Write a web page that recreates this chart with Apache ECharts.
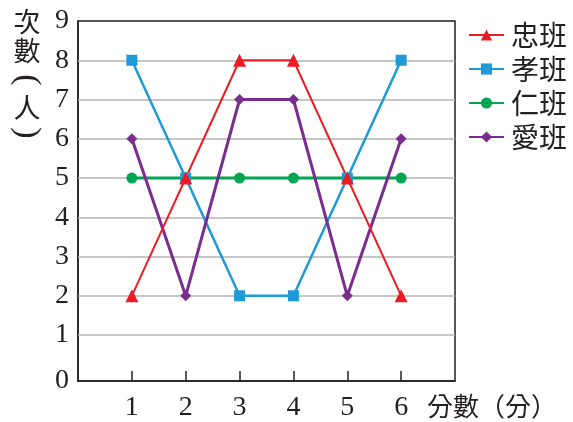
<!DOCTYPE html>
<html>
<head>
<meta charset="utf-8">
<script src="https://cdn.jsdelivr.net/npm/echarts@6/dist/echarts.min.js"></script>
<style>html,body{margin:0;padding:0;background:#fff;}#c{width:573px;height:422px;}</style>
</head>
<body>
<div id="c"></div>
<script>
const scores = [1, 2, 3, 4, 5, 6];
const yTicks = [1, 2, 3, 4, 5, 6, 7, 8, 9];
const zhong = [2, 5, 8, 8, 5, 2];
const xiao = [8, 5, 2, 2, 5, 8];
const ren = [5, 5, 5, 5, 5, 5];
const ai = [6, 2, 7, 7, 2, 6];
const names = ['忠班', '孝班', '仁班', '愛班'];
const xName = '分數（分）';
const yNameChars = ['次', '數', '(', '人', ')'];

const pairs = arr => scores.map((x, i) => [x, arr[i]]);
const serif = 'Liberation Serif, Times New Roman, serif';
const cjk = 'Noto Sans CJK TC';
const yMin = -0.17;

const yNameY = [22, 51, 80, 108, 133];
const yNameGraphics = yNameChars.map((ch, i) => {
  const paren = ch === '(' || ch === ')';
  return {
    type: 'text', x: 27, y: yNameY[i], rotation: paren ? -Math.PI / 2 : 0,
    style: {text: ch, font: paren ? '34px "Liberation Serif"' : '27px "Noto Sans CJK TC"',
      fill: '#231f20', align: 'center', verticalAlign: 'middle'}
  };
});

const chart = echarts.init(document.getElementById('c'));
const mk = (name, arr, color, symbol, size, width, extra) => Object.assign({
  name, type: 'line', data: pairs(arr), symbol, symbolSize: size, z: 6,
  lineStyle: {color, width}, itemStyle: {color}, animation: false
}, extra || {});
chart.setOption({
  animation: false,
  grid: {left: 78, right: 118, top: 21, bottom: 38, show: true, borderColor: '#231f20', borderWidth: 1.5},
  legend: {
    orient: 'vertical', left: 468, top: 21, padding: 0, itemWidth: 35, itemHeight: 14, itemGap: 6,
    data: names,
    textStyle: {fontFamily: cjk, fontSize: 28, lineHeight: 28, color: '#231f20', padding: [0, 0, 0, 2]}
  },
  xAxis: {
    type: 'value', min: 0, max: 7,
    axisLine: {onZero: false, lineStyle: {color: '#231f20', width: 1.5}},
    axisTick: {show: true, inside: true, length: 10, customValues: scores, lineStyle: {color: '#231f20', width: 1.5}},
    axisLabel: {customValues: scores, margin: 13, fontFamily: serif, fontSize: 28, color: '#231f20'},
    splitLine: {show: false}
  },
  yAxis: {
    type: 'value', min: yMin, max: 9,
    axisLine: {show: true, onZero: false, lineStyle: {color: '#231f20', width: 1.5}},
    axisTick: {show: false},
    axisLabel: {customValues: [yMin].concat(yTicks), margin: 9, fontFamily: serif, fontSize: 28, color: '#231f20',
      formatter: v => (v < 0.5 ? '0' : String(Math.round(v)))},
    splitLine: {show: false}
  },
  graphic: yNameGraphics.concat([
    {type: 'text', left: 427, top: 393, style: {text: xName, font: '26px "Noto Sans CJK TC"', fill: '#231f20'}}
  ]),
  series: [
    mk('仁班', ren, '#00a650', 'circle', 11, 3, {
      markLine: {
        silent: true, symbol: 'none', z: 1, animation: false,
        label: {show: false},
        lineStyle: {color: '#b3b3b3', width: 1.5, type: 'solid'},
        emphasis: {disabled: true},
        data: yTicks.slice(0, -1).map(v => ({yAxis: v}))
      }
    }),
    mk('孝班', xiao, '#1e9ad6', 'rect', 11, 2.5),
    mk('愛班', ai, '#7a2d8f', 'diamond', 11, 3),
    mk('忠班', zhong, '#ed1c24', 'triangle', 13, 2)
  ]
});
</script>
</body>
</html>
